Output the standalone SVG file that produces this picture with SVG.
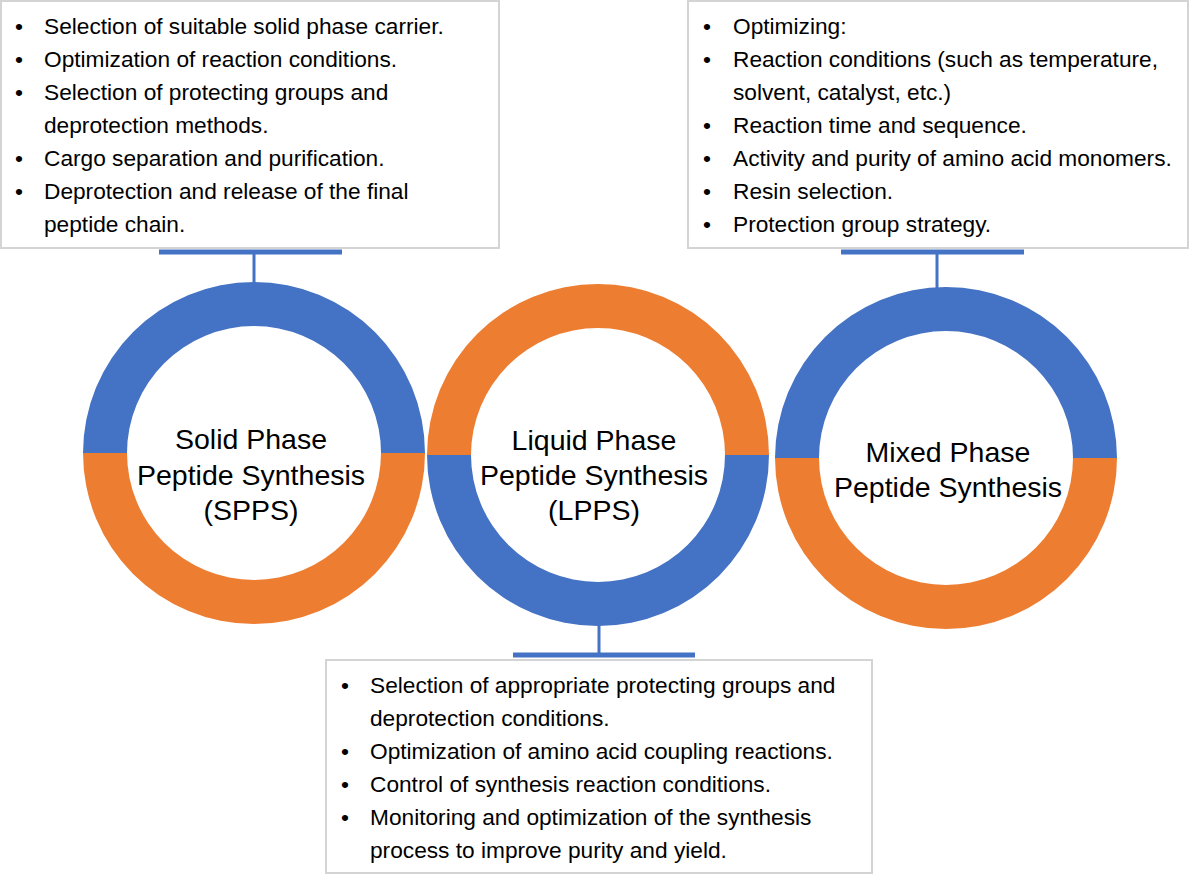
<svg xmlns="http://www.w3.org/2000/svg" width="1190" height="876" viewBox="0 0 1190 876">
<style>
.box{fill:#fff;stroke:#d4d4d4;stroke-width:2}
.t{font-family:"Liberation Sans",Arial,sans-serif;font-size:22.7px;fill:#000}
.c{font-family:"Liberation Sans",Arial,sans-serif;font-size:28.5px;fill:#000;text-anchor:middle}
.blue{fill:#4472C4}
.orange{fill:#ED7D31}
.conn{stroke:#4472C4;fill:none}
</style>
<rect width="1190" height="876" fill="#fff"/>
<g id="connectors">
<line class="conn" x1="159" y1="252" x2="342" y2="252" stroke-width="5"/>
<line class="conn" x1="254" y1="252" x2="254" y2="286" stroke-width="3"/>
<line class="conn" x1="841" y1="252" x2="1024" y2="252" stroke-width="5"/>
<line class="conn" x1="937" y1="252" x2="937" y2="290" stroke-width="3"/>
<line class="conn" x1="513" y1="655" x2="695" y2="655" stroke-width="5"/>
<line class="conn" x1="599" y1="624" x2="599" y2="655" stroke-width="3"/>
</g>
<g id="box-spps">
<rect class="box" x="1" y="1" width="498" height="247"/>
<text class="t"><tspan x="15" y="34">•</tspan><tspan x="44" y="34">Selection of suitable solid phase carrier.</tspan>
<tspan x="15" y="67">•</tspan><tspan x="44" y="67">Optimization of reaction conditions.</tspan>
<tspan x="15" y="100">•</tspan><tspan x="44" y="100">Selection of protecting groups and</tspan>
<tspan x="44" y="133">deprotection methods.</tspan>
<tspan x="15" y="166">•</tspan><tspan x="44" y="166">Cargo separation and purification.</tspan>
<tspan x="15" y="199">•</tspan><tspan x="44" y="199">Deprotection and release of the final</tspan>
<tspan x="44" y="232">peptide chain.</tspan></text>
</g>
<g id="box-mixed">
<rect class="box" x="688" y="1" width="500" height="247"/>
<text class="t"><tspan x="703" y="34">•</tspan><tspan x="733" y="34">Optimizing:</tspan>
<tspan x="703" y="67">•</tspan><tspan x="733" y="67">Reaction conditions (such as temperature,</tspan>
<tspan x="733" y="100">solvent, catalyst, etc.)</tspan>
<tspan x="703" y="133">•</tspan><tspan x="733" y="133">Reaction time and sequence.</tspan>
<tspan x="703" y="166">•</tspan><tspan x="733" y="166">Activity and purity of amino acid monomers.</tspan>
<tspan x="703" y="199">•</tspan><tspan x="733" y="199">Resin selection.</tspan>
<tspan x="703" y="232">•</tspan><tspan x="733" y="232">Protection group strategy.</tspan></text>
</g>
<g id="box-lpps">
<rect class="box" x="326" y="660" width="546" height="213"/>
<text class="t"><tspan x="341" y="693">•</tspan><tspan x="370" y="693">Selection of appropriate protecting groups and</tspan>
<tspan x="370" y="726">deprotection conditions.</tspan>
<tspan x="341" y="759">•</tspan><tspan x="370" y="759">Optimization of amino acid coupling reactions.</tspan>
<tspan x="341" y="792">•</tspan><tspan x="370" y="792">Control of synthesis reaction conditions.</tspan>
<tspan x="341" y="825">•</tspan><tspan x="370" y="825">Monitoring and optimization of the synthesis</tspan>
<tspan x="370" y="858">process to improve purity and yield.</tspan></text>
</g>
<g id="node-spps">
<path class="blue" d="M83,453 A171,171 0 0 1 425,453 L381,453 A127,127 0 0 0 127,453 Z"/>
<path class="orange" d="M83,453 A171,171 0 0 0 425,453 L381,453 A127,127 0 0 1 127,453 Z"/>
<text class="c"><tspan x="251" y="449">Solid Phase</tspan><tspan x="251" y="485">Peptide Synthesis</tspan><tspan x="251" y="520">(SPPS)</tspan></text>
</g>
<g id="node-lpps">
<path class="orange" d="M427,455 A171,171 0 0 1 769,455 L725,455 A127,127 0 0 0 471,455 Z"/>
<path class="blue" d="M427,455 A171,171 0 0 0 769,455 L725,455 A127,127 0 0 1 471,455 Z"/>
<text class="c"><tspan x="594" y="450">Liquid Phase</tspan><tspan x="594" y="485">Peptide Synthesis</tspan><tspan x="594" y="520">(LPPS)</tspan></text>
</g>
<g id="node-mixed">
<path class="blue" d="M775,458 A171,171 0 0 1 1117,458 L1073,458 A127,127 0 0 0 819,458 Z"/>
<path class="orange" d="M775,458 A171,171 0 0 0 1117,458 L1073,458 A127,127 0 0 1 819,458 Z"/>
<text class="c"><tspan x="948" y="462">Mixed Phase</tspan><tspan x="948" y="497">Peptide Synthesis</tspan></text>
</g>
</svg>
